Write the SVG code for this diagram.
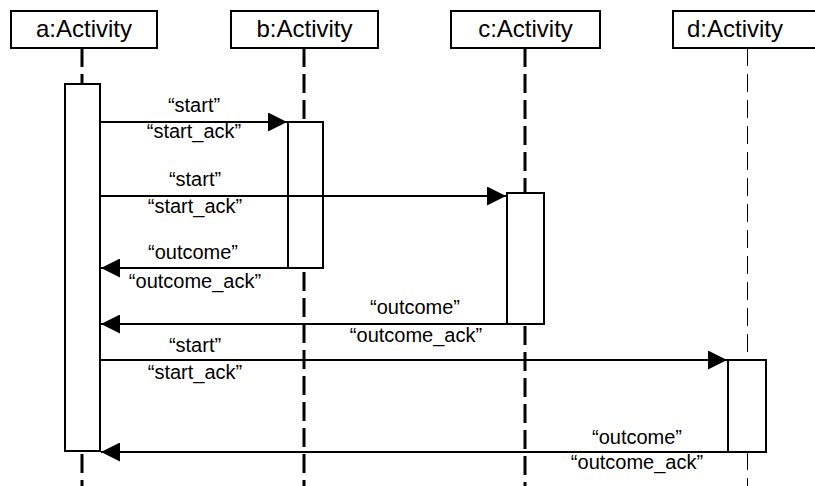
<svg xmlns="http://www.w3.org/2000/svg" width="815" height="486" viewBox="0 0 815 486">
<style>
.box{fill:#fff;stroke:#000;stroke-width:2}
.life{stroke:#000;stroke-width:3;stroke-dasharray:19 7;fill:none}
.life-thin{stroke:#000;stroke-width:1;stroke-dasharray:18 8;fill:none}
.msg{stroke:#000;stroke-width:2;fill:none}
.title{font-family:"Liberation Sans",Arial,sans-serif;font-size:24px;text-anchor:middle;fill:#000}
.lbl{font-family:"Liberation Sans",Arial,sans-serif;font-size:20px;text-anchor:middle;fill:#000}
</style>
<defs>
<marker id="ah" markerWidth="19" markerHeight="19" viewBox="0 0 19 19" refX="19" refY="9.5" markerUnits="userSpaceOnUse" orient="auto">
<path d="M0,0 L19,9.5 L0,19 Z" fill="#000"/>
</marker>
</defs>
<rect width="815" height="486" fill="#fff"/>
<g id="lifelines">
<line class="life" x1="82" y1="48" x2="82" y2="84"/>
<line class="life" x1="82" y1="451" x2="82" y2="486" stroke-dashoffset="-3"/>
<line class="life" x1="304" y1="48" x2="304" y2="122"/>
<line class="life" x1="304" y1="268" x2="304" y2="486" stroke-dashoffset="-4"/>
<line class="life" x1="525" y1="48" x2="525" y2="193"/>
<line class="life" x1="525" y1="324" x2="525" y2="486" stroke-dashoffset="-2"/>
<line class="life-thin" x1="747.5" y1="48" x2="747.5" y2="360"/>
<line class="life-thin" x1="747.5" y1="452" x2="747.5" y2="486"/>
</g>
<g id="a">
<rect class="box" x="11" y="11" width="146" height="37"/>
<text class="title" x="84" y="37">a:Activity</text>
<rect class="box" x="65" y="84" width="35" height="367"/>
</g>
<g id="b">
<rect class="box" x="231" y="11" width="147" height="37"/>
<text class="title" x="304.5" y="37">b:Activity</text>
<rect class="box" x="288" y="122" width="35" height="146"/>
</g>
<g id="c">
<rect class="box" x="451" y="11" width="149" height="37"/>
<text class="title" x="525.5" y="37">c:Activity</text>
<rect class="box" x="507" y="193" width="37" height="131"/>
</g>
<g id="d">
<rect class="box" x="673" y="11" width="148" height="37"/>
<text class="title" x="735" y="37">d:Activity</text>
<rect class="box" x="728" y="360" width="38" height="92"/>
</g>
<g id="connectors">
<line class="msg" x1="100" y1="122" x2="287" y2="122" marker-end="url(#ah)"/>
<line class="msg" x1="100" y1="196" x2="506" y2="196" marker-end="url(#ah)"/>
<line class="msg" x1="288" y1="268" x2="101" y2="268" marker-end="url(#ah)"/>
<line class="msg" x1="507" y1="324" x2="101" y2="324" marker-end="url(#ah)"/>
<line class="msg" x1="100" y1="360" x2="727" y2="360" marker-end="url(#ah)"/>
<line class="msg" x1="728" y1="452" x2="101" y2="452" marker-end="url(#ah)"/>
</g>
<g id="labels">
<text class="lbl" x="194" y="112">“start”</text>
<text class="lbl" x="194" y="138">“start_ack”</text>
<text class="lbl" x="195" y="186">“start”</text>
<text class="lbl" x="195" y="213">“start_ack”</text>
<text class="lbl" x="193" y="259">“outcome”</text>
<text class="lbl" x="195" y="288">“outcome_ack”</text>
<text class="lbl" x="415" y="314">“outcome”</text>
<text class="lbl" x="416" y="342">“outcome_ack”</text>
<text class="lbl" x="195" y="352">“start”</text>
<text class="lbl" x="195" y="379">“start_ack”</text>
<text class="lbl" x="637" y="444">“outcome”</text>
<text class="lbl" x="637" y="469">“outcome_ack”</text>
</g>
</svg>
